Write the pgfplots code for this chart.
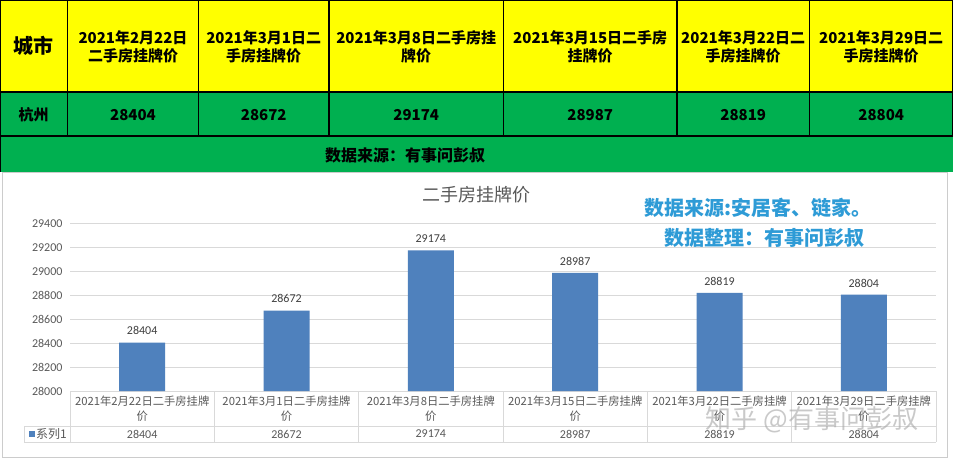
\documentclass[border=0pt]{standalone}
\usepackage{fontspec}
\setmainfont{Noto Sans CJK SC}
\newfontfamily\calibri{Carlito}
\usepackage{pgfplots}
\pgfplotsset{compat=1.18}
\usepackage{pgfplotstable}

\definecolor{xlyellow}{RGB}{255,255,0}
\definecolor{xlgreen}{RGB}{0,176,80}
\definecolor{barblue}{RGB}{79,129,189}
\definecolor{gridgray}{RGB}{217,217,217}
\definecolor{txtgray}{RGB}{89,89,89}
\definecolor{wmblue}{RGB}{46,155,214}

% weekly listing price, Hangzhou
\pgfplotstableread{
x v
0 28404
1 28672
2 29174
3 28987
4 28819
5 28804
}\prices

\begin{document}
\begin{tikzpicture}[x=1pt,y=1pt]
\path[use as bounding box, fill=white] (0,0) rectangle (953,-461);

% ---- top summary table
\fill[xlyellow] (0,0) rectangle (953,-92);
\fill[xlgreen] (0,-92) rectangle (953,-172);
\begin{scope}[line width=1.2pt]
  \draw (0,0) rectangle (953,-136);
  \draw (0,-92) -- (953,-92);
  \draw (0,-136) -- (0,-172);
  \foreach \xx in {67.5,198.5,329,503.5,677,809.5}
    \draw (\xx,0) -- (\xx,-136);
\end{scope}
\begin{scope}[every node/.style={align=center, font=\bfseries\fontsize{15}{18}\selectfont}]
  \node[font=\bfseries\fontsize{20}{20}\selectfont] at (33.7,-46) {城市};
  \node at (133,-47) {2021年2月22日\\二手房挂牌价};
  \node at (263.7,-47) {2021年3月1日二\\手房挂牌价};
  \node at (416.2,-47) {2021年3月8日二手房挂\\牌价};
  \node at (590.2,-47) {2021年3月15日二手房\\挂牌价};
  \node at (743.2,-47) {2021年3月22日二\\手房挂牌价};
  \node at (881.2,-47) {2021年3月29日二\\手房挂牌价};
  \node at (33.7,-115) {杭州};
  \pgfplotstableforeachcolumnelement{v}\of\prices\as\val{%
    \pgfmathsetmacro\cx{{133,263.7,416.2,590.2,743.2,881.2}[\pgfplotstablerow]}
    \node at (\cx,-115) {\val};
  }
  \node[font=\bfseries\fontsize{16}{16}\selectfont] at (405,-155) {数据来源：有事问彭叔};
\end{scope}

% ---- chart frame
\draw[black!20] (2,-172) rectangle (947,-457);
\node[text=txtgray, font=\fontsize{18}{18}\selectfont] at (476,-195) {二手房挂牌价};

\begin{axis}[
    at={(70pt,-391pt)}, anchor=south west,
    scale only axis, width=866pt, height=167.7pt,
    xmin=-0.5, xmax=5.5, ymin=28000, ymax=29400,
    ytick={28000,28200,...,29400}, xtick=\empty,
    scaled y ticks=false,
    ymajorgrids, grid style={gridgray, line width=0.8pt},
    axis line style={draw=none}, major tick length=0pt,
    ybar, bar width=46pt,
    /pgf/number format/1000 sep={},
    /pgf/number format/assume math mode=true,
    yticklabel style={font=\calibri\fontsize{12}{14}\selectfont, text=txtgray, xshift=-4pt,
      /pgf/number format/fixed, /pgf/number format/precision=0},
    nodes near coords,
    every node near coord/.append style={font=\calibri\fontsize{12}{14}\selectfont, text=black!75, yshift=4pt},
  ]
  \addplot[fill=barblue, draw=none] table[x=x, y=v] {\prices};
\end{axis}

% ---- data table under the chart
\begin{scope}[gridgray, line width=0.8pt]
  \foreach \k in {0,...,6}
    \draw ({70+144.33*\k},-391) -- ({70+144.33*\k},-442);
  \draw (24,-426) -- (936,-426);
  \draw (24,-442) -- (936,-442);
  \draw (24,-426) -- (24,-442);
\end{scope}
\foreach \d [count=\i from 0] in {2月22日,3月1日,3月8日,3月15日,3月22日,3月29日}
  \node[align=center, text=txtgray, font=\fontsize{11.3}{15}\selectfont] at ({142.17+144.33*\i},-408.5) {2021年\d 二手房挂牌\\价};
\pgfplotstableforeachcolumnelement{v}\of\prices\as\val{%
  \node[text=txtgray, font=\calibri\fontsize{12}{14}\selectfont] at ({142.17+144.33*\pgfplotstablerow},-434) {\val};
}
\fill[barblue] (29,-431) rectangle (35,-437);
\node[anchor=west, inner sep=0pt, text=txtgray, font=\fontsize{12}{14}\selectfont] at (36,-434) {系列1};

% ---- overlaid captions
\node[text=wmblue, font=\bfseries\fontsize{20}{20}\selectfont] at (758,-208) {数据来源:安居客、链家。};
\node[text=wmblue, font=\bfseries\fontsize{20}{20}\selectfont] at (764,-238) {数据整理：有事问彭叔};
\node[text=black!35, opacity=0.6, font=\fontsize{26}{26}\selectfont] at (812,-420) {知乎 @有事问彭叔};
\end{tikzpicture}
\end{document}
